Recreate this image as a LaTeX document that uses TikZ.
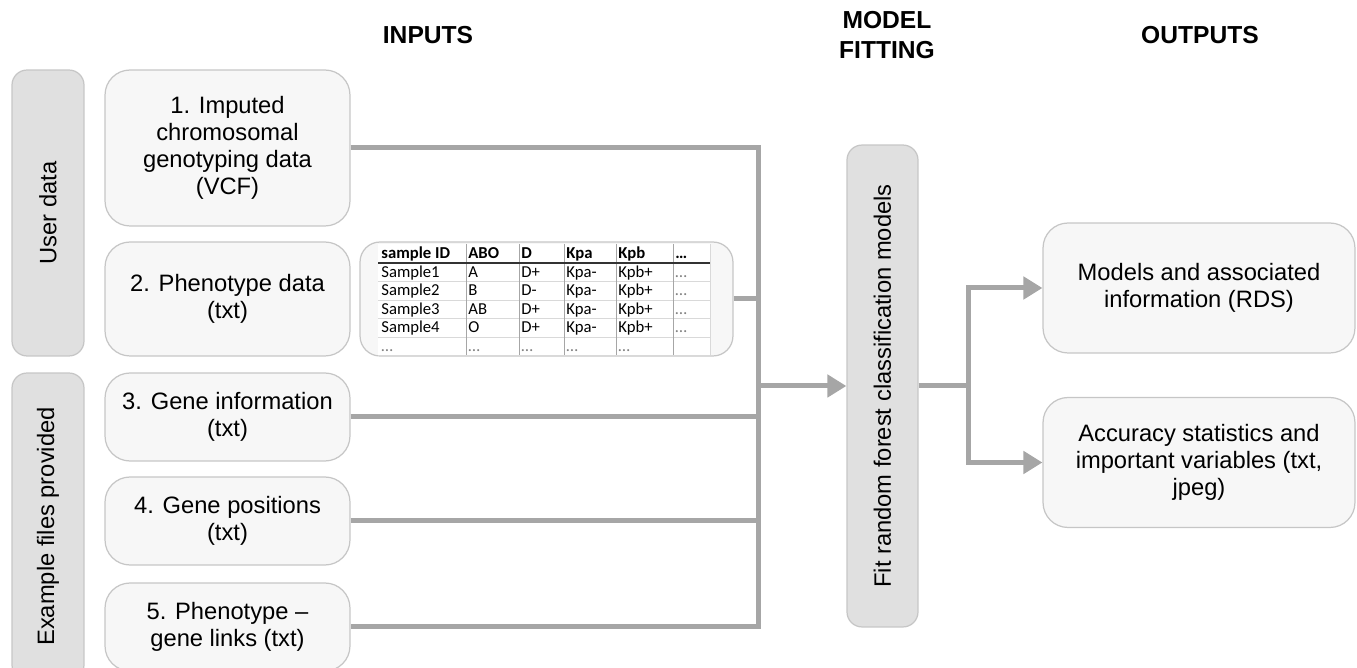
\documentclass[tikz,border=0pt]{standalone}
\usepackage{fontspec}
\setmainfont{Liberation Sans}
\newfontfamily\tablefont{Carlito}
\usepackage{xcolor}
\usetikzlibrary{arrows.meta, positioning, calc}
\definecolor{boxfill}{HTML}{F7F7F7}
\definecolor{boxline}{HTML}{C6C6C6}
\definecolor{barfill}{HTML}{E0E0E0}
\definecolor{connline}{HTML}{A6A6A6}
\newcommand{\etc}{\textcolor{gray}{\ldots}}

\begin{document}
\begin{tikzpicture}[
    x=0.02cm, y=-0.02cm,
    inbox/.style={rectangle, draw=boxline, fill=boxfill, line width=0.7pt, rounded corners=0.5cm, minimum width=4.9cm, align=center, font=\fontsize{13.5}{15.5}\selectfont},
    outbox/.style={inbox, minimum width=6.24cm, minimum height=2.6cm},
    sidebar/.style={rectangle, draw=boxline, fill=barfill, line width=0.7pt, rounded corners=0.3cm, rotate=90, minimum height=1.44cm, font=\fontsize{13.5}{15.5}\selectfont},
    heading/.style={align=center, font=\fontsize{14}{17}\selectfont\bfseries},
    conn/.style={draw=connline, line width=0.1cm},
    arrow/.style={conn, -{Triangle[length=0.38cm, width=0.44cm]}},
    cell/.style={anchor=base west, inner sep=0pt, font=\tablefont\fontsize{9.5}{10}\selectfont},
    grid/.style={draw=gray!30, line width=0.4pt}
]
\useasboundingbox (0,0) rectangle (1357,668);

% Column headings
\node[heading] (hin) at (428,35) {INPUTS};
\node[heading] (hfit) at (887,35) {MODEL\\FITTING};
\node[heading] (hout) at (1200,35) {OUTPUTS};

% Side bars
\node[sidebar, minimum width=5.72cm] (user) at (48,213) {User data};
\node[sidebar, minimum width=6.14cm] (example) at (48,526.5) {Example files provided};

% Input files
\node[inbox, minimum height=3.12cm] (b1) at (227.5,148) {1. Imputed\\chromosomal\\genotyping data\\(VCF)};
\node[inbox, minimum height=2.28cm] (b2) at (227.5,299) {2. Phenotype data\\(txt)};
\node[inbox, minimum height=1.76cm] (b3) at (227.5,417) {3. Gene information\\(txt)};
\node[inbox, minimum height=1.76cm] (b4) at (227.5,521) {4. Gene positions\\(txt)};
\node[inbox, minimum height=1.76cm] (b5) at (227.5,627) {5. Phenotype –\\gene links (txt)};

% Phenotype table
\node[rectangle, draw=boxline, fill=boxfill, line width=0.7pt, rounded corners=0.4cm, minimum width=7.46cm, minimum height=2.28cm] (tab) at (546.5,299) {};
\fill[white] (378,244) rectangle (710,355);
\foreach \ry in {281.5,300,318.5,337,355}
    \draw[grid] (378,\ry) -- (710,\ry);
\draw[grid] (710,244) -- (710,355);
\foreach \cx in {466,519,564,616,673}
    \draw[gray!70, line width=0.5pt] (\cx,244) -- (\cx,355);
\draw[black!80, line width=0.7pt] (378,263) -- (710,263);
\foreach \txt [count=\c] in {sample ID,ABO,D,Kpa,Kpb,\ldots} {
    \pgfmathsetmacro\cx{{381,468,521,566,618,675}[\c-1]}
    \node[cell, font=\tablefont\fontsize{9.5}{10}\selectfont\bfseries] (head-\c) at (\cx,259) {\txt};
}
\foreach \cells [count=\r] in {{Sample1,A,D+,Kpa-,Kpb+,\etc},{Sample2,B,D-,Kpa-,Kpb+,\etc},{Sample3,AB,D+,Kpa-,Kpb+,\etc},{Sample4,O,D+,Kpa-,Kpb+,\etc},{\etc,\etc,\etc,\etc,\etc}} {
    \foreach \txt [count=\c] in \cells {
        \pgfmathsetmacro\cx{{381,468,521,566,618,675}[\c-1]}
        \pgfmathsetmacro\cy{277.5+18.4*(\r-1)}
        \node[cell] (cell-\r-\c) at (\cx,\cy) {\txt};
    }
}

% Model fitting
\node[sidebar, minimum width=9.64cm, minimum height=1.42cm] (fit) at (882.5,386) {Fit random forest classification models};

% Outputs
\node[outbox] (out1) at (1199,288) {Models and associated\\information (RDS)};
\node[outbox] (out2) at (1199,462.5) {Accuracy statistics and\\important variables (txt,\\jpeg)};

% Connectors into the bus
\coordinate (bus) at (758,0);
\draw[conn] (b1.east) -- (b1.east -| bus) -- (b5.east -| bus) -- (b5.east);
\draw[conn] (tab.east) -- (tab.east -| bus);
\draw[conn] (b3.east) -- (b3.east -| bus);
\draw[conn] (b4.east) -- (b4.east -| bus);
\draw[arrow] (fit.north -| bus) -- (fit.north);

% Split to outputs
\coordinate (split) at (968,0);
\draw[conn] (fit.south) -- (fit.south -| split);
\draw[arrow] (fit.south -| split) |- (out1.west);
\draw[arrow] (fit.south -| split) |- (out2.west);

\end{tikzpicture}
\end{document}
